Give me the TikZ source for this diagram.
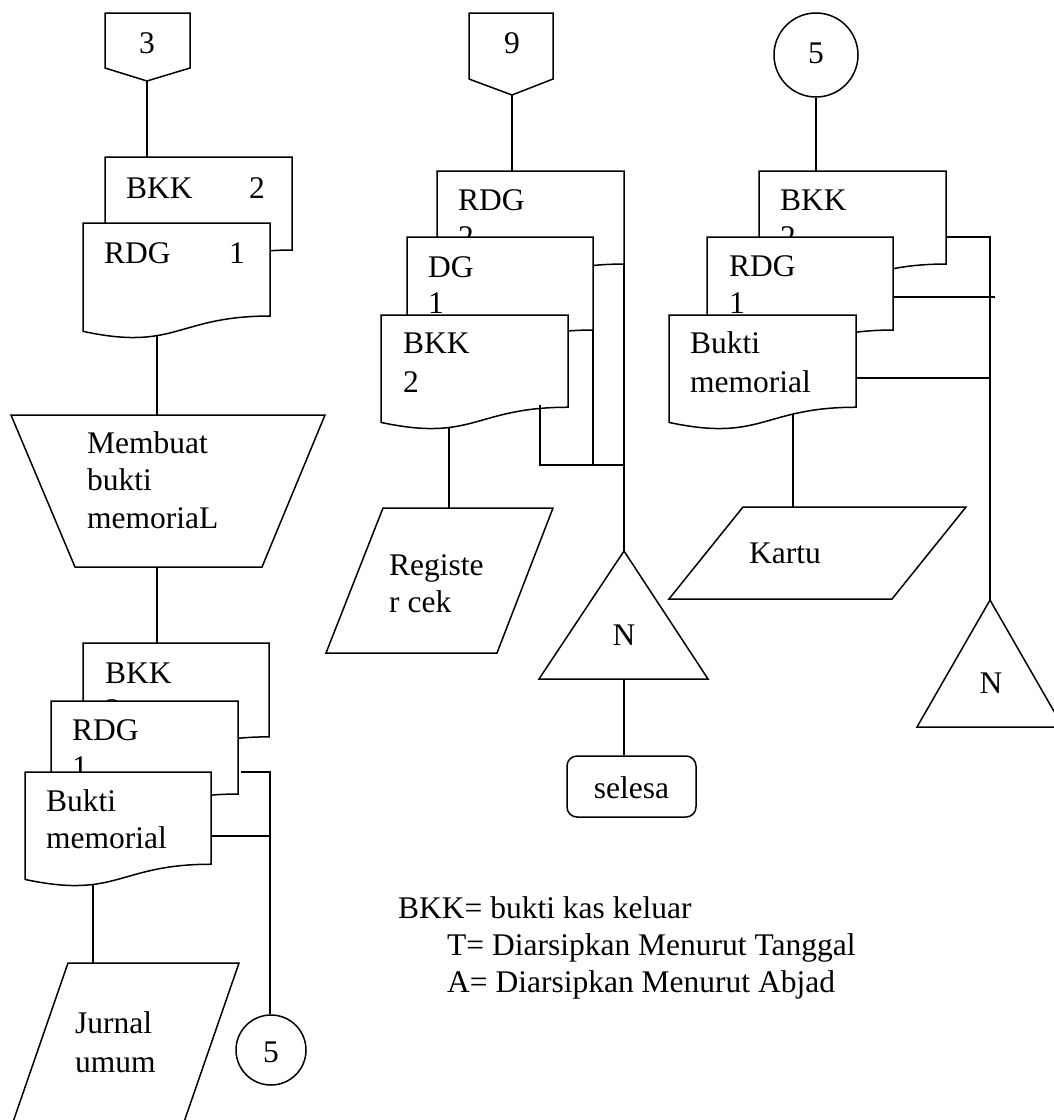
\documentclass[tikz,border=0pt]{standalone}
\usepackage{fontspec}
\setmainfont{Liberation Serif}
\tikzset{
  shp/.style={draw, line width=1.5pt, fill=white, line join=miter},
  ln/.style={line width=1.5pt},
  lbl/.style={anchor=base west, inner sep=0pt, font=\fontsize{31.5}{37}\selectfont},
  ctr/.style={anchor=center, inner sep=0pt, font=\fontsize{31.5}{37}\selectfont},
  bse/.style={anchor=base, inner sep=0pt, font=\fontsize{31.5}{37}\selectfont}
}
% document shape: x, y (top-left), width, height
\newcommand\docshp[4]{%
  \pgfmathsetmacro\dxr{#1+#3}%
  \pgfmathsetmacro\dxm{#1+0.5*#3}%
  \pgfmathsetmacro\dyr{#2+0.802*#4}%
  \pgfmathsetmacro\dyl{#2+0.934*#4}%
  \pgfmathsetmacro\dyc{#2+1.1075*#4}%
  \draw[shp] (#1,#2) -- (\dxr,#2) -- (\dxr,\dyr) .. controls (\dxm,\dyr) and (\dxm,\dyc) .. (#1,\dyl) -- cycle;}
\begin{document}
\begin{tikzpicture}[x=1pt,y=-1pt]
\useasboundingbox (0,0) rectangle (1054,1120);
\fill[white] (0,0) rectangle (1054,1120);

% ---------------- left column ----------------
\draw[shp] (105,13) -- (190,13) -- (190,68) -- (147,81) -- (105,68) -- cycle;
\node[ctr] (off3) at (147,43) {3};
\coordinate (off3b) at (147,81);
\coordinate (l1t) at (147,157);
\draw[ln] (off3b) -- (l1t);

\docshp{105}{157}{187}{116}
\node[lbl] (l1a) at (126,198) {BKK};
\node[lbl] (l1b) at (249,198) {2};
\docshp{83}{223}{187}{116}
\node[lbl] (l2a) at (104,263) {RDG};
\node[lbl] (l2b) at (229,263) {1};

\coordinate (l2bot) at (157,336);
\coordinate (mopt) at (157,415);
\draw[ln] (l2bot) -- (mopt);
\draw[shp] (11,415) -- (325,415) -- (262,567) -- (75,567) -- cycle;
\node[lbl] (mo1) at (87,453) {Membuat};
\node[lbl] (mo2) at (87,490) {bukti};
\node[lbl] (mo3) at (87,528) {memoriaL};
\coordinate (mopb) at (157,567);
\coordinate (l3t) at (157,643);
\draw[ln] (mopb) -- (l3t);

\docshp{83}{643}{186}{117}
\node[lbl] (l3a) at (105,683) {BKK};
\node[lbl] (l3b) at (105,720) {2};
\docshp{51}{701}{187}{116}
\node[lbl] (l4a) at (72,740) {RDG};
\node[lbl] (l4b) at (72,777) {1};
\docshp{25}{772}{186}{115}
\node[lbl] (l5a) at (46,811) {Bukti};
\node[lbl] (l5b) at (46,848) {memorial};

\node[draw, line width=1.5pt, circle, minimum size=70pt, inner sep=0pt] (c5b) at (271,1050) {};
\node[ctr] (c5bt) at (271,1052) {5};
\coordinate (l4r) at (241,772);
\coordinate (l4k) at (270,772);
\coordinate (l5r) at (211,836);
\coordinate (l5k) at (270,836);
\draw[ln] (l4r) -- (l4k) -- (c5b.north -| l4k);
\draw[ln] (l5r) -- (l5k);

\coordinate (l5bot) at (93,884);
\coordinate (jut) at (93,963);
\draw[ln] (l5bot) -- (jut);
\draw[shp] (68,963) -- (239,963) -- (184,1122) -- (13,1122) -- cycle;
\node[lbl] (ju1) at (75,1033) {Jurnal};
\node[lbl] (ju2) at (75,1072) {umum};

% ---------------- middle column ----------------
\draw[shp] (469,13) -- (553,13) -- (553,79) -- (512,95) -- (469,79) -- cycle;
\node[ctr] (off9) at (512,43) {9};
\coordinate (off9b) at (512,95);
\coordinate (m1t) at (512,171);
\draw[ln] (off9b) -- (m1t);

\docshp{437}{171}{187}{116}
\node[lbl] (m1a) at (458,210) {RDG};
\node[lbl] (m1b) at (458,247) {2};
\docshp{407}{237}{186}{116}
\node[lbl] (m2a) at (428,277) {DG};
\node[lbl] (m2b) at (428,313) {1};
\docshp{381}{315}{187}{115}
\node[lbl] (m3a) at (403,353) {BKK};
\node[lbl] (m3b) at (403,392) {2};

\coordinate (m1r) at (624,264);
\coordinate (m2r) at (593,330);
\coordinate (m3r) at (540,405);
\coordinate (mj1) at (540,465);
\coordinate (mj2) at (593,465);
\coordinate (mj3) at (624,465);
\coordinate (tri1) at (624,551);
\draw[ln] (m1r) -- (tri1);
\draw[ln] (m2r) -- (mj2);
\draw[ln] (m3r) -- (mj1) -- (mj3);
\draw[shp] (624,551) -- (708,679) -- (539,679) -- cycle;
\node[ctr] (n1) at (624,635) {N};
\coordinate (tri1b) at (624,679);
\node[draw, line width=1.5pt, rounded corners=10pt, minimum width=129pt, minimum height=61pt, inner sep=0pt] (sel) at (631.5,786.5) {};
\node[bse] (selt) at (631.5,798) {selesa};
\draw[ln] (tri1b) -- (sel.north -| tri1b);

\coordinate (m3bot) at (449,427);
\coordinate (regt) at (449,508);
\draw[ln] (m3bot) -- (regt);
\draw[shp] (383,508) -- (553,508) -- (497,653) -- (326,653) -- cycle;
\node[lbl] (re1) at (389,575) {Registe};
\node[lbl] (re2) at (389,612) {r cek};

% ---------------- right column ----------------
\node[draw, line width=1.5pt, circle, minimum size=84pt, inner sep=0pt] (c5t) at (816,55) {};
\node[ctr] (c5tt) at (816,53) {5};
\coordinate (r1t) at (816,171);
\draw[ln] (c5t.south) -- (r1t);

\docshp{759}{171}{187}{116}
\node[lbl] (r1a) at (780,210) {BKK};
\node[lbl] (r1b) at (780,247) {2};
\docshp{707}{237}{186}{116}
\node[lbl] (r2a) at (729,276) {RDG};
\node[lbl] (r2b) at (729,313) {1};
\docshp{669}{315}{187}{115}
\node[lbl] (r3a) at (690,353) {Bukti};
\node[lbl] (r3b) at (690,392) {memorial};

\coordinate (r1r) at (946,237);
\coordinate (rk1) at (990,237);
\coordinate (r2r) at (893,297);
\coordinate (rk2) at (995,297);
\coordinate (r3r) at (856,378);
\coordinate (rk3) at (990,378);
\coordinate (tri2) at (990,600);
\draw[ln] (r1r) -- (rk1) -- (tri2);
\draw[ln] (r2r) -- (rk2);
\draw[ln] (r3r) -- (rk3);
\draw[shp] (990,600) -- (1063,727) -- (917,727) -- cycle;
\node[ctr] (n2) at (991,683) {N};

\coordinate (r3bot) at (793,414);
\coordinate (kat) at (793,507);
\draw[ln] (r3bot) -- (kat);
\draw[shp] (743,507) -- (966,507) -- (892,599) -- (669,599) -- cycle;
\node[lbl] (ka) at (749,563) {Kartu};

% ---------------- legend ----------------
\node[lbl] (lg1) at (398,918) {BKK= bukti kas keluar};
\node[lbl] (lg2) at (447,955) {T= Diarsipkan Menurut Tanggal};
\node[lbl] (lg3) at (447,992) {A= Diarsipkan Menurut Abjad};
\end{tikzpicture}
\end{document}
